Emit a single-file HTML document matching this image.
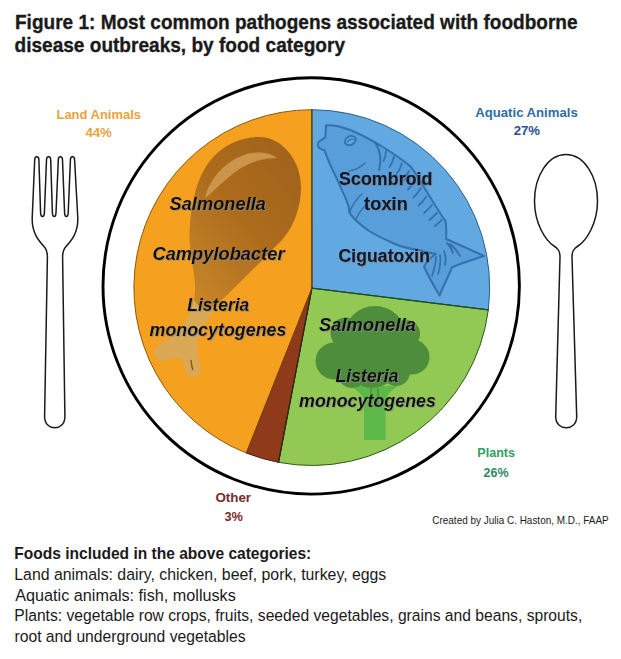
<!DOCTYPE html>
<html>
<head>
<meta charset="utf-8">
<title>Figure 1</title>
<style>
html,body{margin:0;padding:0;background:#fff;}
body{width:621px;height:659px;overflow:hidden;font-family:"Liberation Sans",sans-serif;}
svg{display:block;}
text{font-family:"Liberation Sans",sans-serif;}
.t{font-weight:bold;font-size:21px;fill:#1a1a1a;stroke:#1a1a1a;stroke-width:0.35px;}
.b{font-size:16.3px;fill:#1a1a1a;}
.lab{font-weight:bold;font-size:12.5px;}
.pl{font-weight:bold;font-style:italic;font-size:17.5px;fill:#111;}
.pb{font-weight:bold;font-size:17.5px;fill:#0d172b;stroke:#0d172b;stroke-width:0.25px;}
</style>
</head>
<body>
<svg width="621" height="659" viewBox="0 0 621 659">
<defs>
<filter id="sh" x="-10%" y="-30%" width="120%" height="170%">
<feGaussianBlur in="SourceAlpha" stdDeviation="0.7" result="b"/>
<feOffset in="b" dx="1.4" dy="1.4" result="o"/>
<feFlood flood-color="#8c8c8c" flood-opacity="0.75" result="f"/>
<feComposite in="f" in2="o" operator="in" result="s"/>
<feMerge><feMergeNode in="s"/><feMergeNode in="SourceGraphic"/></feMerge>
</filter>
<clipPath id="pieclip"><circle cx="311.8" cy="287.4" r="177.7"/></clipPath>
<linearGradient id="meat" x1="0.9" y1="0" x2="0.1" y2="1">
<stop offset="0" stop-color="#A0621C"/><stop offset="0.5" stop-color="#AD6C1E"/><stop offset="0.85" stop-color="#C07E25"/><stop offset="1" stop-color="#C88528"/>
</linearGradient>
<filter id="soft" x="-5%" y="-5%" width="110%" height="110%"><feGaussianBlur stdDeviation="0.7"/></filter>
</defs>
<rect width="621" height="659" fill="#ffffff"/>

<!-- Title -->
<text class="t" x="15" y="28.8" textLength="562.5" lengthAdjust="spacingAndGlyphs">Figure 1: Most common pathogens associated with foodborne</text>
<text class="t" x="14.5" y="51.9" textLength="330.5" lengthAdjust="spacingAndGlyphs">disease outbreaks, by food category</text>

<!-- Plate -->
<circle cx="311.2" cy="285.9" r="208.2" fill="#ffffff" stroke="#000" stroke-width="2.9"/>

<!-- Pie -->
<g stroke-width="1" stroke-linejoin="round">
<path d="M311.9,288.2 L311.80,109.70 A177.9,177.9 0 0 1 488.30,309.90 Z" fill="#62A9E2" stroke="#2b5f8a"/>
<path d="M311.9,288.2 L488.30,309.90 A177.9,177.9 0 0 1 278.46,462.35 Z" fill="#92C854" stroke="#2f5a1c"/>
<path d="M311.9,288.2 L278.46,462.35 A177.9,177.9 0 0 1 246.31,453.01 Z" fill="#8F3B1B" stroke="#4a1c0a"/>
<path d="M311.9,288.2 L246.31,453.01 A177.9,177.9 0 0 1 311.80,109.70 Z" fill="#F5A01F" stroke="#8a5a10"/>
</g>
<g fill="none" stroke-width="1.3" stroke-linecap="round">
<path d="M311.9,288.2 L311.8,109.7" stroke="#4f4a12"/>
<path d="M311.9,288.2 L488.3,309.9" stroke="#1d4d2a"/>
<path d="M311.9,288.2 L278.46,462.35" stroke="#2c2a0c"/>
<path d="M311.9,288.2 L246.31,453.01" stroke="#7a3d0c" stroke-width="0.9"/>
</g>

<!-- Drumstick -->
<g id="drum" filter="url(#soft)">
<path d="M194,299 C193,307 190,313 186.5,319.5 C182,328 176,334 169,339 C164,342 155.5,344.5 154.4,352 C153.8,357.5 158.5,361.5 164,360.6 C169.5,359.7 175,356 181,359.2 C184,361.5 184,367 185.5,371 C187,375 189.5,377 193,376.8 C197,376.6 200.5,374.5 200.7,370 C201,364 197.5,356 197,349 C196.5,340 200.5,331 205,324 C209,318 212,312 214,306 Z" fill="#DBA954"/>
<path d="M261,137 C282,138 301,160 301,187 C301,210 292,232 276,246 C268,254 252,271 232,290 C225,297 217,305 210,309 C203,309 197,306 194,300 C196,290 195,280 193,268 C190,252 188,236 191,214 C194,192 199,176 209,162 C222,145 242,136 261,137 Z" fill="url(#meat)"/>
<path d="M205,198 C209,180 224,162 244,155 C256,151 269,152 277,158 C263,158 250,162 238,170 C224,180 213,192 205,198 Z" fill="#CE9A52" opacity="0.9"/>
<path d="M191.1,360.4 C191.3,364 191.8,367 192.7,369.6" fill="none" stroke="#8a5a14" stroke-width="1.4" stroke-linecap="round"/>
</g>

<!-- Fish -->
<g id="fish" fill="#589EDA" stroke="#3571AA" stroke-width="2" stroke-linejoin="round" stroke-linecap="round">
<path d="M326,125.3 C334,124.5 342,127 349,129.5 C360,133.5 372,140.5 383,147 C394,154 403,160 410,166 C416,173 420,180 424,187 C429,195 433,202 437,208 C440,213 443,218 445.5,221 C446.5,227 446.5,233 446,239 C458,244 471,250 484,256 C472,260 460,263.5 452,267.5 C448,277 443,287 439.5,295.5 C434,286 428,276 424,266.5 C427,261 431,257 436,254 C430,253 425,252 421,250.5 C411,249 402,247 395,244 C386,240 377,236 369,231 C362,226 356,221 351,215 C349,212 348.8,209 348.6,206.6 C347,201 345,196 342,190.5 C339,183 335,175 331,166.5 C328.5,161 326.5,156 324.5,150.3 L319.7,148.6 C318,147 317.5,144 319,141.5 L325.3,137.4 Z"/>
<ellipse cx="350.3" cy="140.6" rx="5.6" ry="4.2" fill="#5FA6E0" transform="rotate(-28 350.3 140.6)"/>
<path d="M347.5,142 C349,139.5 352,138.5 354,139.5" fill="none" stroke-width="1.2"/>
<path d="M374.5,142 C380,149 382,158 379,170" fill="none"/>
<path d="M349,171 C355,170 361,167 365,163" fill="none" stroke-width="1.4"/>
<path d="M349,213 C352,206 356,199 362,194 M356,219 C359,213 363,207 368,203" fill="none" stroke-width="1.4"/>
<g fill="none" stroke-width="1.8">
<path d="M386,151 C386,155 385,158 383.5,161 M394,156.5 C393,161 391.5,164 389.5,167 M402,163.5 C400.5,168 399,171 396.5,174 M409,171 C407,175 405,178.5 402.5,181.5 M415,179.5 C413,183 411,186.5 408,189.5 M421,188 C419,191.5 416.5,194.5 413.5,197.5 M426.5,196.5 C424,200 421.5,203 418.5,205.5 M432,205 C429.5,208 427,210.5 424,213 M437,213 C434.5,215.5 432,218 429.5,220 M441.5,220 C439.5,222.5 437,224.5 435,226"/>
<path d="M447,243 C450,246 452,249 453,253 M450,244 C455,248 458,252 460,256 M444,251 C446,256 446,260 445,265 M440,255 C441,262 440,268 438,274 M436,257 C436,264 434,270 432,276"/>
</g>
</g>

<!-- Broccoli -->
<g id="broc">
<path d="M364,440 L364,400 C362,394 356,389 350,386 L398,386 C392,390 387,394 385.5,400 L385.5,440 Z" fill="#5CB947"/>
<g fill="#4E8D3B">
<circle cx="375" cy="337" r="31"/>
<circle cx="346" cy="333" r="15.5"/>
<circle cx="334" cy="361" r="18.5"/>
<circle cx="406" cy="334" r="14"/>
<circle cx="412" cy="357" r="17.5"/>
<circle cx="352" cy="374" r="14"/>
<circle cx="396" cy="372" r="14"/>
<circle cx="372" cy="360" r="28"/>
</g>
<g stroke="#4E8E3C" stroke-width="1.4" fill="none"><path d="M371,388 L371,404 M378,388 L378,404"/></g>
</g>

<!-- Pie labels -->
<g filter="url(#sh)">
<text class="pl" x="169.5" y="209.6" textLength="96.5" lengthAdjust="spacingAndGlyphs">Salmonella</text>
<text class="pl" x="152.5" y="260" textLength="132" lengthAdjust="spacingAndGlyphs">Campylobacter</text>
<text class="pl" x="187.3" y="311.1" textLength="62" lengthAdjust="spacingAndGlyphs">Listeria</text>
<text class="pl" x="149.5" y="335.5" textLength="137" lengthAdjust="spacingAndGlyphs">monocytogenes</text>
<text class="pb" x="339" y="184.6" textLength="93.5" lengthAdjust="spacingAndGlyphs">Scombroid</text>
<text class="pb" x="364" y="209.7" textLength="44" lengthAdjust="spacingAndGlyphs">toxin</text>
<text class="pb" x="338.5" y="262" textLength="91.5" lengthAdjust="spacingAndGlyphs">Ciguatoxin</text>
<text class="pl" x="319" y="331.2" textLength="97" lengthAdjust="spacingAndGlyphs">Salmonella</text>
<text class="pl" x="335.5" y="382" textLength="63" lengthAdjust="spacingAndGlyphs">Listeria</text>
<text class="pl" x="299" y="407" textLength="137" lengthAdjust="spacingAndGlyphs">monocytogenes</text>
</g>

<!-- Outside labels -->
<text class="lab" fill="#E9A33B" x="56.5" y="118.6" textLength="84.5" lengthAdjust="spacingAndGlyphs">Land Animals</text>
<text class="lab" fill="#E9A33B" x="85.4" y="137" textLength="26.5" lengthAdjust="spacingAndGlyphs">44%</text>
<text class="lab" fill="#2E6DA4" x="475.3" y="116.7" textLength="102.4" lengthAdjust="spacingAndGlyphs">Aquatic Animals</text>
<text class="lab" fill="#2B4F91" x="513.7" y="135.3" textLength="26.3" lengthAdjust="spacingAndGlyphs">27%</text>
<text class="lab" fill="#2FA060" x="477.3" y="456.8" textLength="37.7" lengthAdjust="spacingAndGlyphs">Plants</text>
<text class="lab" fill="#2E8B5E" x="483.5" y="476.5" textLength="25.1" lengthAdjust="spacingAndGlyphs">26%</text>
<text class="lab" fill="#7B2B2B" x="215.4" y="501.8" textLength="35.7" lengthAdjust="spacingAndGlyphs">Other</text>
<text class="lab" fill="#7B2B2B" x="224.4" y="520.6" textLength="18.4" lengthAdjust="spacingAndGlyphs">3%</text>

<!-- Fork -->
<g fill="#fff" stroke="#1a1a1a" stroke-width="1.5" stroke-linejoin="round">
<path d="M34.7,160 C34.7,155.8 38.9,155.8 38.9,160 L40.6,213 C40.8,217.6 44.2,217.6 44.4,213 L46.5,160 C46.5,155.8 50.7,155.8 50.7,160 L52.4,213 C52.6,217.6 55.8,217.6 56,213 L58.3,160 C58.3,155.8 62.5,155.8 62.5,160 L64.6,213 C64.8,217.6 68,217.6 68.2,213 L70.4,160 C70.4,155.8 74.6,155.8 74.6,160 L77.8,218 C78.2,233 71,241 66,246.5 C63.2,249.5 62.6,252 62.6,257 L64.9,416.5 C65.1,431.5 44.4,431.5 44.6,416.5 L47.4,257 C47.4,252 46.8,249.5 44,246.5 C39,241 31.8,233 32.2,218 Z"/>
</g>

<!-- Spoon -->
<g fill="#fff" stroke="#1a1a1a" stroke-width="1.5" stroke-linejoin="round">
<path d="M566,154.5 C584,154.5 597.5,176 597.5,201 C597.5,224 586,241 578,246 C573,249 572,252 572,257 L576.7,416.5 C577,431.5 555.4,431.5 555.7,416.5 L560,257 C560,252 559,249 554,246 C546,241 534.5,224 534.5,201 C534.5,176 548,154.5 566,154.5 Z"/>
</g>

<!-- Credit -->
<text x="432.3" y="523.8" font-size="11.5" fill="#1a1a1a" textLength="176.4" lengthAdjust="spacingAndGlyphs">Created by Julia C. Haston, M.D., FAAP</text>

<!-- Footer -->
<text class="b" font-weight="bold" font-size="17" x="14.3" y="558.8" textLength="297" lengthAdjust="spacingAndGlyphs" style="font-size:17px">Foods included in the above categories:</text>
<text class="b" x="14.3" y="580" textLength="372" lengthAdjust="spacingAndGlyphs">Land animals: dairy, chicken, beef, pork, turkey, eggs</text>
<text class="b" x="15.3" y="600.5" textLength="220.5" lengthAdjust="spacingAndGlyphs">Aquatic animals: fish, mollusks</text>
<text class="b" x="14.3" y="621" textLength="568" lengthAdjust="spacingAndGlyphs">Plants: vegetable row crops, fruits, seeded vegetables, grains and beans, sprouts,</text>
<text class="b" x="14.5" y="641.5" textLength="231" lengthAdjust="spacingAndGlyphs">root and underground vegetables</text>
</svg>
</body>
</html>
